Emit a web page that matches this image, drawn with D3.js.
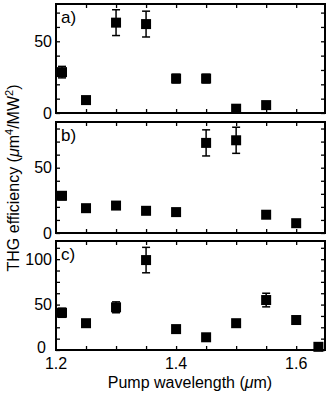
<!DOCTYPE html>
<html>
<head>
<meta charset="utf-8">
<script src="https://cdn.jsdelivr.net/npm/d3@7"></script>
<style>
  body { margin: 0; background: #fff; }
  svg { display: block; font-family: "Liberation Sans", Arial, sans-serif; }
</style>
</head>
<body>
<div id="chart"></div>
<script>
// wavelengths (um) per panel
var wlA = [1.21, 1.25, 1.30, 1.35, 1.40, 1.45, 1.50, 1.55];
var effA = [28.5, 9, 63, 62, 24, 24, 3, 5.5];
var errA = [4, 0, 9, 9, 3, 3, 0, 0];

var wlB = [1.21, 1.25, 1.30, 1.35, 1.40, 1.45, 1.50, 1.55, 1.60];
var effB = [28.5, 19, 21, 17, 16, 69, 71, 14, 7.5];
var errB = [3, 0, 0, 0, 0, 10, 10, 0, 0];

var wlC = [1.21, 1.25, 1.30, 1.35, 1.40, 1.45, 1.50, 1.55, 1.60, 1.637];
var effC = [41, 29.5, 47, 99, 23, 14, 29.5, 55, 33, 3.5];
var errC = [5, 0, 6, 14, 0, 0, 0, 7.5, 3, 0];

var panelNames = ["a)", "b)", "c)"];
var yMax = [76, 85, 120];
var yTickLabels = [[0, 50], [0, 50], [0, 50, 100]];
var yMinorStep = [10, 10, 12.5];
var xTickLabels = [1.2, 1.4, 1.6];

var W = 330, H = 400;
var margin = { left: 56, right: 5 };
var panelTop = [4, 122, 241];
var panelBottom = [113, 233, 350];

var svg = d3.select("#chart").append("svg")
    .attr("width", W)
    .attr("height", H);

var x = d3.scaleLinear()
    .domain([1.2, 1.648])
    .range([margin.left, W - margin.right]);

var xMinor = d3.range(1.25, 1.646, 0.05);

var data = [
    { wl: wlA, eff: effA, err: errA },
    { wl: wlB, eff: effB, err: errB },
    { wl: wlC, eff: effC, err: errC }
];

function styleTicks(s) {
    s.select(".domain").remove();
    s.selectAll("line").attr("stroke-width", 1.3);
}

data.forEach(function (pd, i) {
    var y = d3.scaleLinear()
        .domain([0, yMax[i]])
        .range([panelBottom[i], panelTop[i]]);

    var g = svg.append("g");

    // inward ticks on all four sides
    var yTicks = d3.range(0, yMax[i] + 0.01, yMinorStep[i]);
    g.append("g").call(d3.axisRight(y).tickValues(yTicks).tickSize(4).tickFormat(""))
        .attr("transform", "translate(" + margin.left + ",0)")
        .call(styleTicks);
    g.append("g").call(d3.axisLeft(y).tickValues(yTicks).tickSize(4).tickFormat(""))
        .attr("transform", "translate(" + (W - margin.right) + ",0)")
        .call(styleTicks);
    g.append("g").call(d3.axisTop(x).tickValues(xMinor).tickSize(4).tickFormat(""))
        .attr("transform", "translate(0," + panelBottom[i] + ")")
        .call(styleTicks);
    g.append("g").call(d3.axisBottom(x).tickValues(xMinor).tickSize(4).tickFormat(""))
        .attr("transform", "translate(0," + panelTop[i] + ")")
        .call(styleTicks);

    // y tick labels (bottom "0" of last panel nudged aside, as in the original)
    var last = i === data.length - 1;
    g.selectAll(".ylab")
        .data(yTickLabels[i])
        .enter().append("text")
        .attr("x", function (d) { return (last && d === 0) ? margin.left - 10 : margin.left - 4; })
        .attr("y", function (d) { return (last && d === 0) ? y(d) + 3 : y(d) + 5.5; })
        .attr("text-anchor", "end")
        .attr("font-size", 16)
        .text(function (d) { return d; });

    // frame
    g.append("rect")
        .attr("x", margin.left)
        .attr("y", panelTop[i])
        .attr("width", W - margin.right - margin.left)
        .attr("height", panelBottom[i] - panelTop[i])
        .attr("fill", "none")
        .attr("stroke", "#000")
        .attr("stroke-width", 2);

    var pts = pd.wl.map(function (w, k) { return { x: w, y: pd.eff[k], e: pd.err[k] }; });

    // error bars
    var eb = g.selectAll(".eb").data(pts.filter(function (d) { return d.e > 0; }))
        .enter().append("g");
    eb.append("line")
        .attr("x1", function (d) { return x(d.x); })
        .attr("x2", function (d) { return x(d.x); })
        .attr("y1", function (d) { return y(d.y - d.e); })
        .attr("y2", function (d) { return y(d.y + d.e); })
        .attr("stroke", "#000").attr("stroke-width", 1.5);
    [-1, 1].forEach(function (sgn) {
        eb.append("line")
            .attr("x1", function (d) { return x(d.x) - 4; })
            .attr("x2", function (d) { return x(d.x) + 4; })
            .attr("y1", function (d) { return y(d.y + sgn * d.e); })
            .attr("y2", function (d) { return y(d.y + sgn * d.e); })
            .attr("stroke", "#000").attr("stroke-width", 1.5);
    });

    // square markers
    g.selectAll(".pt").data(pts)
        .enter().append("rect")
        .attr("x", function (d) { return x(d.x) - 5; })
        .attr("y", function (d) { return y(d.y) - 5; })
        .attr("width", 10)
        .attr("height", 10)
        .attr("fill", "#000");

    g.append("text")
        .attr("x", margin.left + 5)
        .attr("y", panelTop[i] + 19)
        .attr("font-size", 17)
        .text(panelNames[i]);
});

// x tick labels under bottom panel
svg.selectAll(".xlab")
    .data(xTickLabels)
    .enter().append("text")
    .attr("x", function (d) { return x(d); })
    .attr("y", panelBottom[2] + 19)
    .attr("text-anchor", "middle")
    .attr("font-size", 16)
    .text(function (d) { return d.toFixed(1); });

// axis titles
var xt = svg.append("text")
    .attr("x", 190)
    .attr("y", 388)
    .attr("text-anchor", "middle")
    .attr("font-size", 16);
xt.append("tspan").text("Pump wavelength (");
xt.append("tspan").attr("font-style", "italic").text("μ");
xt.append("tspan").text("m)");

var yt = svg.append("text")
    .attr("transform", "translate(19,178) rotate(-90)")
    .attr("text-anchor", "middle")
    .attr("font-size", 16);
yt.append("tspan").text("THG efficiency (");
yt.append("tspan").attr("font-style", "italic").text("μ");
yt.append("tspan").text("m");
yt.append("tspan").attr("font-size", 11).attr("dy", -6).text("4");
yt.append("tspan").attr("dy", 6).text("/MW");
yt.append("tspan").attr("font-size", 11).attr("dy", -6).text("2");
yt.append("tspan").attr("dy", 6).text(")");
</script>
</body>
</html>
